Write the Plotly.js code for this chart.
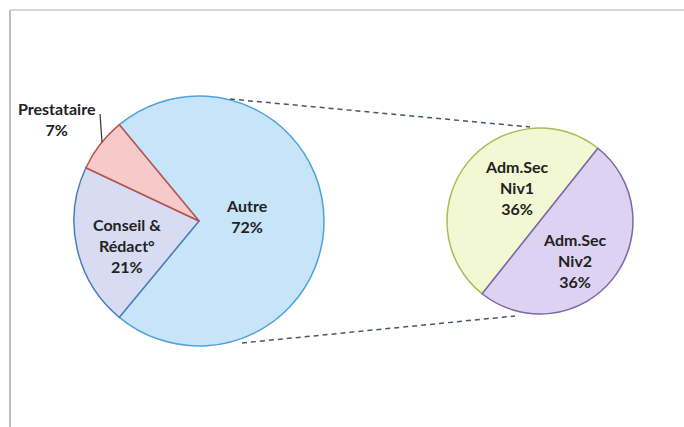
<!DOCTYPE html>
<html>
<head>
<meta charset="utf-8">
<script src="https://cdn.plot.ly/plotly-3.0.1.min.js"></script>
<style>html,body{margin:0;padding:0;background:#fff;}#chart{width:684px;height:427px;}</style>
</head>
<body>
<div id="chart"></div>
<script>
// Main pie
var mainLabels = ['Autre', 'Conseil &<br>Rédact°', 'Prestataire'];
var mainValues = [72, 21, 7];
// Secondary pie (split of "Autre")
var subLabels = ['Adm.Sec<br>Niv1', 'Adm.Sec<br>Niv2'];
var subValues = [36, 36];

var W = 684, H = 427;
function px(x) { return x / W; }
function py(y) { return 1 - y / H; }

var font = {family: 'Lato, "Open Sans", sans-serif', size: 16, color: '#222222', weight: 'bold'};

var mainTrace = {
  type: 'pie',
  labels: mainLabels,
  values: mainValues,
  sort: false,
  direction: 'clockwise',
  rotation: -39.6,
  domain: {x: [px(74), px(324)], y: [py(346), py(96)]},
  marker: {
    colors: ['#c8e4f8', '#d8dcf3', '#f6cac8'],
    line: {color: ['#4fa3da', '#4a7ebb', '#c0504d'], width: 1.5}
  },
  textinfo: 'none',
  hoverinfo: 'none',
  showlegend: false
};

var subTrace = {
  type: 'pie',
  labels: subLabels,
  values: subValues,
  sort: false,
  direction: 'clockwise',
  rotation: -141.5,
  domain: {x: [px(447), px(633)], y: [py(314), py(128)]},
  marker: {
    colors: ['#f3f8d4', '#ddd2f2'],
    line: {color: ['#a9bb55', '#7b66a6'], width: 1.5}
  },
  textinfo: 'none',
  hoverinfo: 'none',
  showlegend: false
};

// label anchor positions (pixels)
var mainLabelPos = [[247, 216], [127, 245], [57, 119]];
var subLabelPos = [[517, 187], [575, 260]];

var annotations = [];
mainLabels.forEach(function (l, i) {
  annotations.push({xref: 'paper', yref: 'paper', x: px(mainLabelPos[i][0]), y: py(mainLabelPos[i][1]),
    xanchor: 'center', yanchor: 'middle', text: l + '<br>' + mainValues[i] + '%', showarrow: false, font: font});
});
subLabels.forEach(function (l, i) {
  annotations.push({xref: 'paper', yref: 'paper', x: px(subLabelPos[i][0]), y: py(subLabelPos[i][1]),
    xanchor: 'center', yanchor: 'middle', text: l + '<br>' + subValues[i] + '%', showarrow: false, font: font});
});

var layout = {
  width: W, height: H,
  margin: {l: 0, r: 0, t: 0, b: 0},
  paper_bgcolor: '#ffffff',
  plot_bgcolor: '#ffffff',
  showlegend: false,
  shapes: [
    // chart frame
    {type: 'line', xref: 'paper', yref: 'paper', x0: px(10), x1: px(10), y0: py(10), y1: py(427), line: {color: '#a8a8b8', width: 1.5}},
    {type: 'line', xref: 'paper', yref: 'paper', x0: px(10), x1: px(684), y0: py(10), y1: py(10), line: {color: '#c8c8c8', width: 1.5}},
    // series lines
    {type: 'line', xref: 'paper', yref: 'paper', x0: px(230), y0: py(99), x1: px(530), y1: py(127), line: {color: '#4a5568', width: 1.5, dash: '5px,4px'}},
    {type: 'line', xref: 'paper', yref: 'paper', x0: px(242), y0: py(343), x1: px(515), y1: py(316), line: {color: '#4a5568', width: 1.5, dash: '5px,4px'}},
    // leader line for Prestataire
    {type: 'line', xref: 'paper', yref: 'paper', x0: px(100), y0: py(114), x1: px(102), y1: py(142), line: {color: '#333333', width: 1.2}}
  ],
  annotations: annotations
};

Plotly.newPlot('chart', [mainTrace, subTrace], layout, {displayModeBar: false, staticPlot: true});
</script>
</body>
</html>
